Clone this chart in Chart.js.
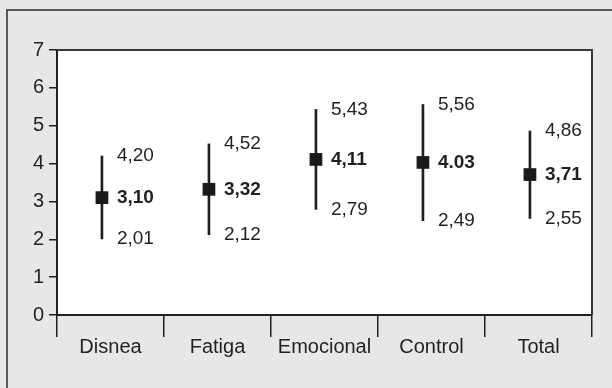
<!DOCTYPE html>
<html>
<head>
<meta charset="utf-8">
<script src="https://cdn.jsdelivr.net/npm/chart.js@4/dist/chart.umd.min.js"></script>
<style>
  html, body { margin: 0; padding: 0; background: #e6e7e8; }
  canvas { display: block; }
</style>
</head>
<body>
<canvas id="chart" width="612" height="388"></canvas>
<script>
// Dimension scores: mean with lower / upper limits
const categories = ['Disnea', 'Fatiga', 'Emocional', 'Control', 'Total'];
const means = [3.10, 3.32, 4.11, 4.03, 3.71];
const lows = [2.01, 2.12, 2.79, 2.49, 2.55];
const highs = [4.20, 4.52, 5.43, 5.56, 4.86];
const meanSeparators = [',', ',', ',', '.', ','];
const yMin = 0, yMax = 7, yStep = 1;

const MARK_SHIFT = 0.42;          // markers sit left of each category centre
const INK = '#231f20';
const FONT = 'Liberation Sans, Arial, Helvetica, sans-serif';

const fmt = (v, sep) => v.toFixed(2).replace('.', sep || ',');

const framePlugin = {
  id: 'frame',
  beforeDraw(chart) {
    const { ctx, chartArea: a, width, height } = chart;
    ctx.save();
    ctx.fillStyle = '#e6e7e8';
    ctx.fillRect(0, 0, width, height);
    ctx.strokeStyle = '#58595b';
    ctx.lineWidth = 2;
    ctx.beginPath();
    ctx.moveTo(7, height);
    ctx.lineTo(7, 10);
    ctx.lineTo(width, 10);
    ctx.stroke();
    ctx.fillStyle = '#ffffff';
    ctx.fillRect(a.left, a.top, a.right - a.left, a.bottom - a.top);
    ctx.restore();
  },
  afterDraw(chart) {
    const { ctx, chartArea: a } = chart;
    ctx.save();
    ctx.strokeStyle = '#3a3a3a';
    ctx.lineWidth = 2;
    ctx.beginPath();
    ctx.moveTo(a.left, a.top);
    ctx.lineTo(a.right, a.top);
    ctx.lineTo(a.right, a.bottom);
    ctx.stroke();
    ctx.restore();
  }
};

const valueLabels = {
  id: 'valueLabels',
  afterDatasetsDraw(chart) {
    const { ctx } = chart;
    const xs = chart.scales.xv, ys = chart.scales.y;
    ctx.save();
    ctx.fillStyle = INK;
    ctx.textAlign = 'left';
    ctx.textBaseline = 'middle';
    categories.forEach((c, i) => {
      const x = xs.getPixelForValue(i + MARK_SHIFT) + 15;
      ctx.font = '19px ' + FONT;
      ctx.fillText(fmt(highs[i]), x, ys.getPixelForValue(highs[i]));
      ctx.fillText(fmt(lows[i]), x, ys.getPixelForValue(lows[i]));
      ctx.font = 'bold 19px ' + FONT;
      ctx.fillText(fmt(means[i], meanSeparators[i]), x, ys.getPixelForValue(means[i]));
    });
    ctx.restore();
  }
};

new Chart(document.getElementById('chart'), {
  type: 'bar',
  data: {
    labels: categories,
    datasets: [
      {
        type: 'scatter',
        xAxisID: 'xv',
        order: 0,
        data: means.map((m, i) => ({ x: i + MARK_SHIFT, y: m })),
        pointStyle: 'rect',
        pointRadius: 9,
        pointHoverRadius: 9,
        backgroundColor: '#1a1a1a',
        borderWidth: 0,
        showLine: false
      },
      {
        type: 'bar',
        xAxisID: 'xv',
        order: 1,
        data: lows.map((lo, i) => ({ x: i + MARK_SHIFT, y: [lo, highs[i]] })),
        backgroundColor: INK,
        borderWidth: 0,
        barThickness: 2
      }
    ]
  },
  options: {
    responsive: false,
    animation: false,
    devicePixelRatio: 1,
    layout: { padding: { top: 50, right: 20, left: 0, bottom: 0 } },
    plugins: { legend: { display: false }, tooltip: { enabled: false } },
    scales: {
      x: {
        type: 'category',
        offset: true,
        afterFit(scale) { scale.height = 73; },
        grid: {
          offset: true,
          drawOnChartArea: false,
          drawTicks: true,
          tickLength: 22,
          color: INK,
          lineWidth: 1.5
        },
        border: { color: INK, width: 2 },
        ticks: { color: INK, padding: -2, font: { family: FONT, size: 20 } }
      },
      xv: {
        type: 'linear',
        display: false,
        offset: false,
        min: 0,
        max: categories.length
      },
      y: {
        min: yMin,
        max: yMax,
        afterFit(scale) { scale.width = 57; },
        grid: {
          drawOnChartArea: false,
          drawTicks: true,
          tickLength: 8,
          color: INK,
          lineWidth: 1.5
        },
        border: { color: INK, width: 2 },
        ticks: { stepSize: yStep, color: INK, padding: 5, font: { family: FONT, size: 20 } }
      }
    }
  },
  plugins: [framePlugin, valueLabels]
});
</script>
</body>
</html>
